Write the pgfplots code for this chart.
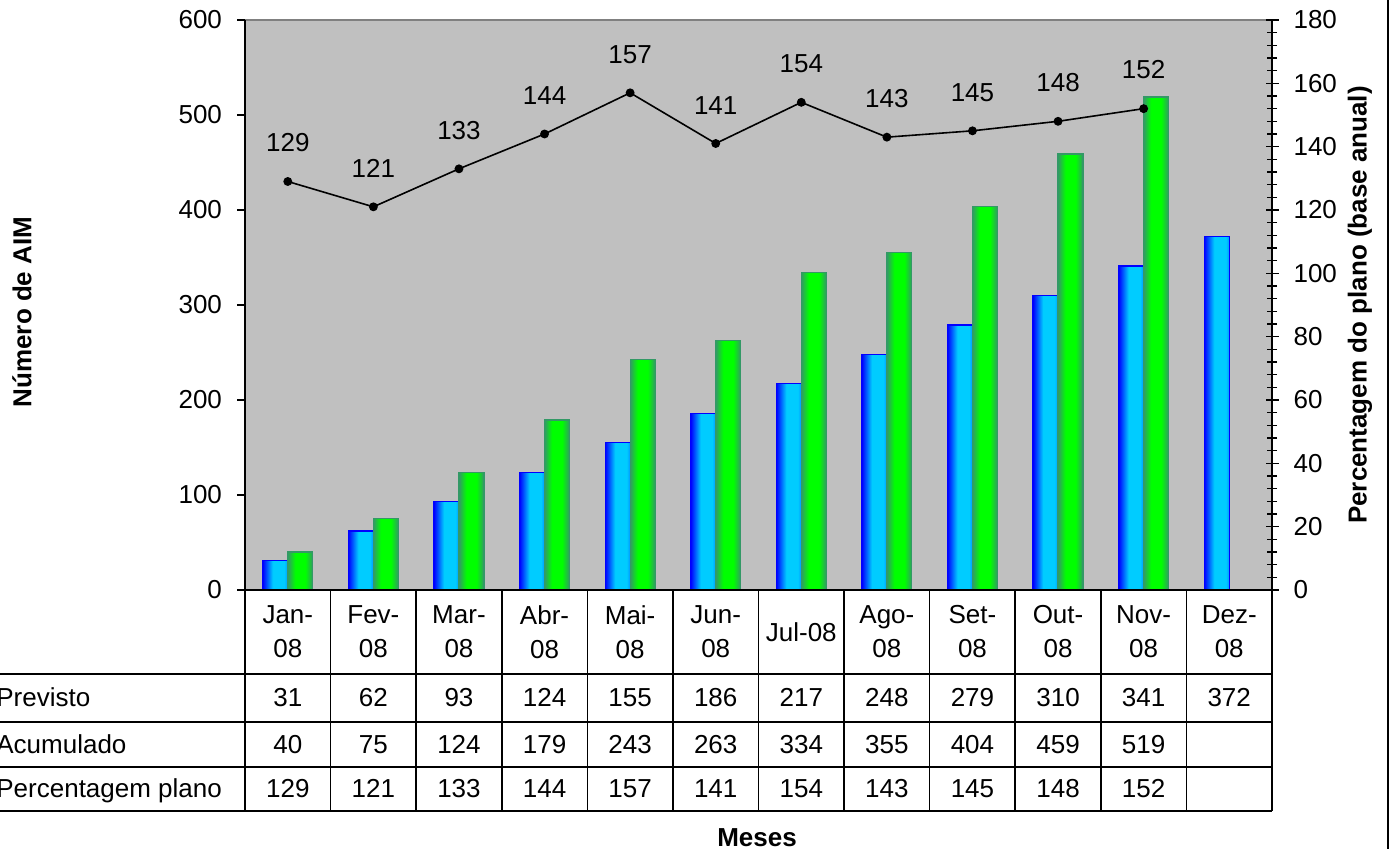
\documentclass[border=0pt]{standalone}
\usepackage{pgfplots}
\usepackage{pgfplotstable}
\pgfplotsset{compat=1.18}
\usepackage{fontspec}
\setmainfont{Liberation Sans}

\definecolor{plotgray}{RGB}{192,192,192}
\definecolor{frameline}{RGB}{128,128,128}
\definecolor{bblue}{RGB}{0,0,255}
\definecolor{bcyan}{RGB}{0,204,255}
\definecolor{bright}{RGB}{0,150,255}
\definecolor{ggreen}{RGB}{0,255,0}
\definecolor{gdark}{RGB}{51,153,102}
\newcommand{\fs}{\fontsize{13}{17}\selectfont}

% the bar path is mapped onto 25bp..75bp of the shading
\pgfdeclarehorizontalshading{bluebarshade}{100bp}{color(0bp)=(bblue); color(25bp)=(bblue);
  color(45bp)=(bcyan); color(68bp)=(bcyan); color(75bp)=(bright); color(100bp)=(bright)}
\pgfdeclarehorizontalshading{greenbarshade}{100bp}{color(0bp)=(gdark); color(25bp)=(gdark);
  color(40bp)=(ggreen); color(60bp)=(ggreen); color(75bp)=(gdark); color(100bp)=(gdark)}

% m = month index (Jan-08 = 0)
\pgfplotstableread{
m  prev  acum
0  31    40
1  62    75
2  93    124
3  124   179
4  155   243
5  186   263
6  217   334
7  248   355
8  279   404
9  310   459
10 341   519
11 372   nan
}\aimdata

\pgfplotstableread{
m  perc
0  129
1  121
2  133
3  144
4  157
5  141
6  154
7  143
8  145
9  148
10 152
}\percdata

% 1 px of the reference = 0.5pt
\pgfplotsset{
  base/.style={
    width=513.5pt, height=285pt, scale only axis,
    anchor=south west, at={(0,0)},
    xmin=-0.5, xmax=11.5, hide x axis,
    /pgf/number format/assume math mode=true,
    tick label style={font=\fs},
    axis line style={-, black, line width=0.8pt},
    major tick style={black, line width=0.6pt},
    minor tick style={black, line width=0.6pt},
  },
  bluebar/.style={draw=bblue, line width=0.6pt, shade, shading=bluebarshade},
  greenbar/.style={draw=gdark, line width=0.6pt, shade, shading=greenbarshade},
}

\begin{document}
\begin{tikzpicture}
\begin{scope}[shift={(-122.5pt,295pt)}, x=0.5pt, y=-0.5pt]
  \fill[plotgray] (245,20) rectangle (1272,590);
  \draw[frameline, line width=0.8pt] (245,20) -- (1272,20);
\end{scope}

% left axis: Previsto / Acumulado, one path per bar so each gets its own shading
\begin{axis}[base,
    ymin=0, ymax=600, ytick={0,100,...,600},
    axis y line*=left, ytick align=outside, major tick length=4pt,
    yticklabel style={xshift=-4pt},
    ybar, bar width=12.5pt]
  \pgfplotsinvokeforeach{0,...,11}{
    \addplot[bluebar, bar shift=-6.25pt, restrict x to domain=#1:#1]
      table[x=m, y=prev] {\aimdata};
  }
  \pgfplotsinvokeforeach{0,...,10}{
    \addplot[greenbar, bar shift=6.25pt, restrict x to domain=#1:#1]
      table[x=m, y=acum] {\aimdata};
  }
\end{axis}

% right axis: Percentagem plano
\begin{axis}[base,
    ymin=0, ymax=180, ytick={0,20,...,180}, minor y tick num=4,
    axis y line*=right, ytick align=center,
    yticklabel style={xshift=4pt},
    major tick length=6.5pt, minor tick length=5pt]
  \addplot[black, line width=0.8pt, mark=*, mark size=1.8pt,
      nodes near coords,
      every node near coord/.append style={font=\fs, anchor=south, yshift=11pt}]
    table[x=m, y=perc] {\percdata};
\end{axis}

\begin{scope}[shift={(-122.5pt,295pt)}, x=0.5pt, y=-0.5pt]
  % data table
  \draw[line width=0.8pt] (245,590) -- (1272,590);
  \foreach \k in {0,...,12}
    \draw[line width=0.8pt] ({245+\k*85.583},590) -- ({245+\k*85.583},811);
  \foreach \yy in {674,722,767,811}
    \draw[line width=0.8pt] (-10,\yy) -- (1272,\yy);
  \foreach \m [count=\i from 0] in {Jan,Fev,Mar,Abr,Mai,Jun}
    \node[font=\fs, align=center, inner sep=0pt] at ({245+(\i+0.5)*85.583},632) {\m-\\08};
  \node[font=\fs, inner sep=0pt] at ({245+6.5*85.583},632) {Jul-08};
  \foreach \m [count=\i from 7] in {Ago,Set,Out,Nov,Dez}
    \node[font=\fs, align=center, inner sep=0pt] at ({245+(\i+0.5)*85.583},632) {\m-\\08};

  \node[font=\fs, anchor=base west, inner sep=0pt] at (-4,707) {Previsto};
  \node[font=\fs, anchor=base west, inner sep=0pt] at (-4,754) {Acumulado};
  \node[font=\fs, anchor=base west, inner sep=0pt] at (-4,798) {Percentagem plano};
  \foreach \v [count=\i from 0] in {31,62,93,124,155,186,217,248,279,310,341,372}
    \node[font=\fs, anchor=base, inner sep=0pt] at ({245+(\i+0.5)*85.583},707) {\v};
  \foreach \v [count=\i from 0] in {40,75,124,179,243,263,334,355,404,459,519}
    \node[font=\fs, anchor=base, inner sep=0pt] at ({245+(\i+0.5)*85.583},754) {\v};
  \foreach \v [count=\i from 0] in {129,121,133,144,157,141,154,143,145,148,152}
    \node[font=\fs, anchor=base, inner sep=0pt] at ({245+(\i+0.5)*85.583},798) {\v};

  % axis titles
  \node[font=\bfseries\fs, rotate=90] at (22,312) {Número de AIM};
  \node[font=\bfseries\fs, rotate=90] at (1360,305) {Percentagem do plano (base anual)};
  \node[font=\bfseries\fs] at (757,838) {Meses};
  \draw[line width=0.8pt] (1388,-5) -- (1388,855);
\end{scope}

\pgfresetboundingbox
\begin{scope}[shift={(-122.5pt,295pt)}, x=0.5pt, y=-0.5pt]
  \path[use as bounding box] (0,0) rectangle (1390,849);
\end{scope}
\end{tikzpicture}
\end{document}
